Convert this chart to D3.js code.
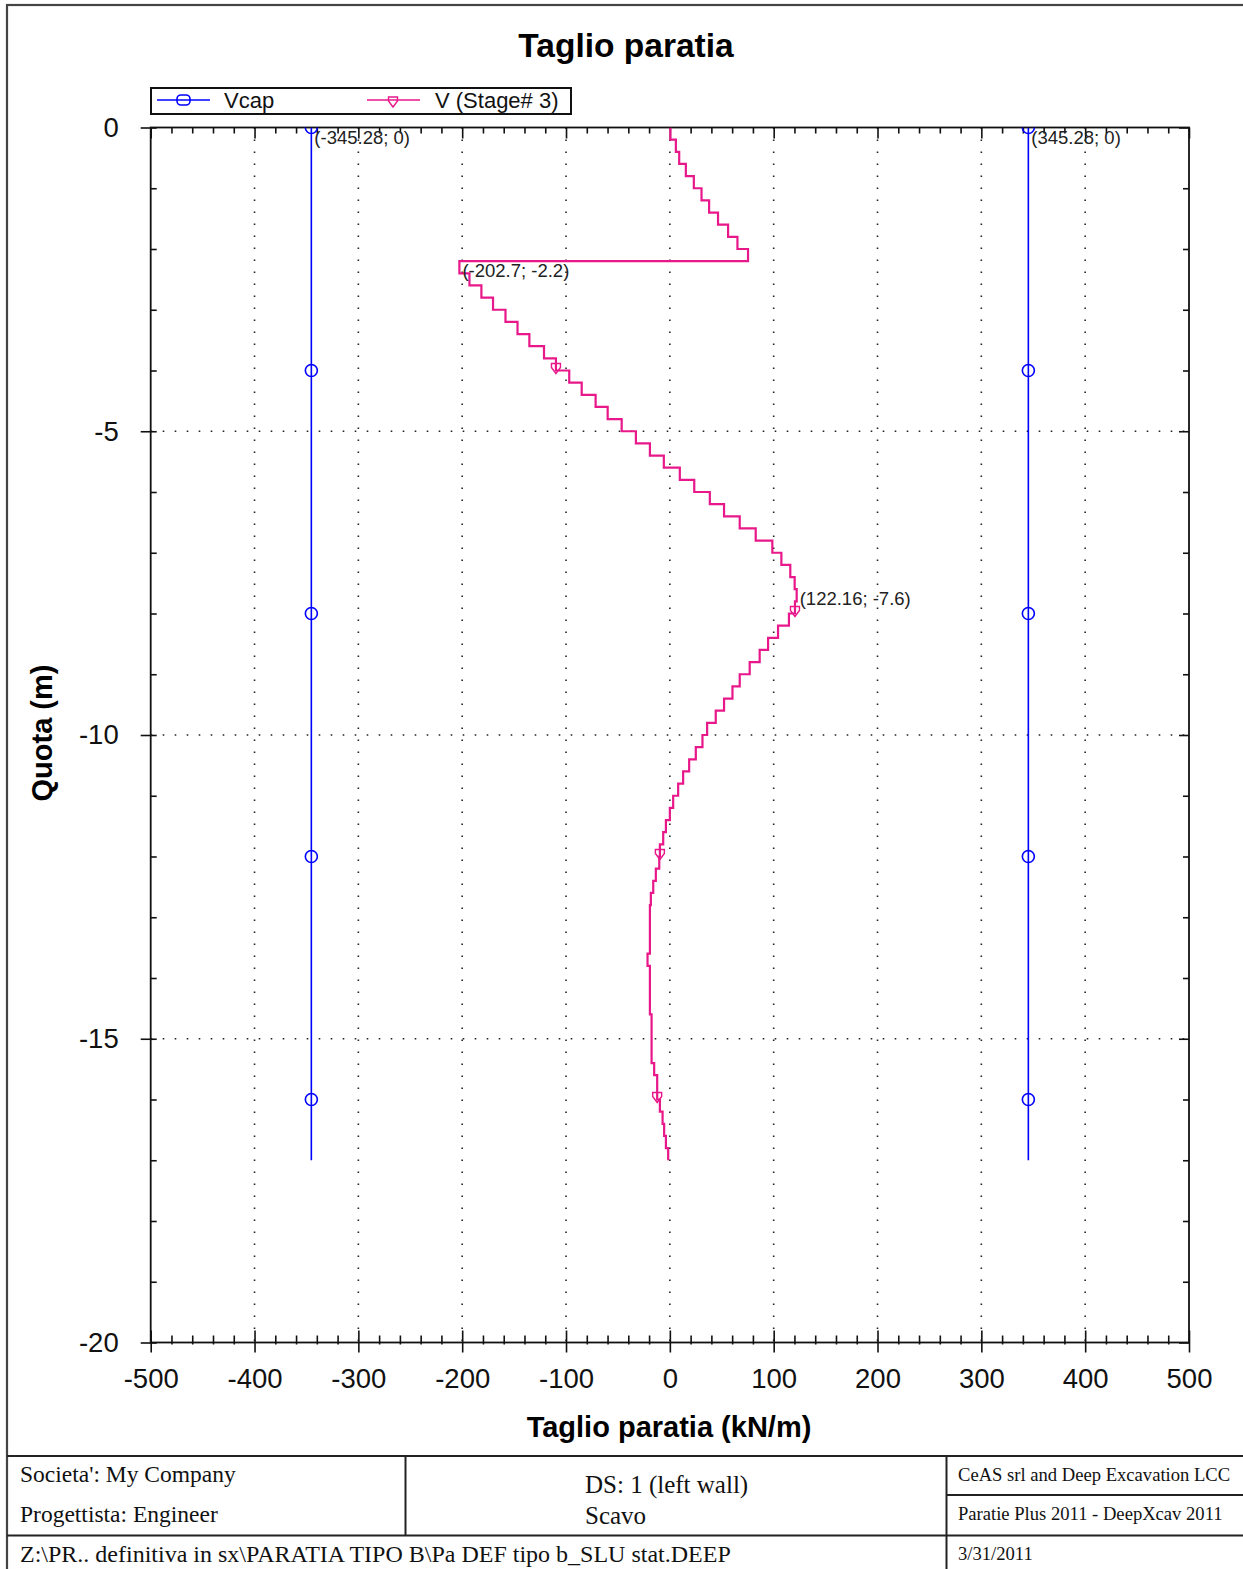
<!DOCTYPE html>
<html><head><meta charset="utf-8">
<script src="https://cdn.jsdelivr.net/npm/d3@7"></script>
<style>body{margin:0;background:#fff}svg{display:block}</style>
</head><body>
<script>
// ---- data ----
const quotaNodes = [0,-0.2,-0.4,-0.6,-0.8,-1,-1.2,-1.4,-1.6,-1.8,-2,-2.2,-2.4,-2.6,-2.8,-3,-3.2,-3.4,-3.6,-3.8,-4,-4.2,-4.4,-4.6,-4.8,-5,-5.2,-5.4,-5.6,-5.8,-6,-6.2,-6.4,-6.6,-6.8,-7,-7.2,-7.4,-7.6,-7.8,-8,-8.2,-8.4,-8.6,-8.8,-9,-9.2,-9.4,-9.6,-9.8,-10,-10.2,-10.4,-10.6,-10.8,-11,-11.2,-11.4,-11.6,-11.8,-12,-12.2,-12.4,-12.6,-12.8,-13,-13.2,-13.4,-13.6,-13.8,-14,-14.2,-14.4,-14.6,-14.8,-15,-15.2,-15.4,-15.6,-15.8,-16,-16.2,-16.4,-16.6,-16.8,-17];
// shear per element (between consecutive nodes), kN/m
const vStage3 = [0.5,5.8,9.0,15.4,23.1,30.5,37.8,46.4,56.1,65.1,75.3,
  -202.7,-193,-181.5,-170.3,-158.3,-146.7,-135.3,-121.2,-109.7,
  -96.9,-84.9,-71.5,-59.9,-46.4,-32.7,-19.2,-5.8,9.6,23.5,
  38.5,52.2,67.3,82.7,98.7,107.4,116,120.2,122.16,120.5,
  114.7,104.2,94.6,86.5,76.9,67.3,60.3,52.2,44.2,35.9,
  31.4,25,18.6,12.8,8.0,3.2,0,-3.8,-6.4,-9.6,
  -10.2,-13.5,-16,-18.3,-19.2,-19.2,-19.2,-19.2,-21.5,-19.2,
  -19.2,-19.2,-19.2,-17.6,-17.6,-17.6,-17.6,-15.1,-12.2,-12.2,
  -9.6,-7,-5.5,-3.8,-1.6];
const vMarkerQuota = [-4,-8,-12,-16];
const vcapValues = [-345.28, 345.28];
const vcapQuota = [0, -17];
const vcapMarkerQuota = [0,-4,-8,-12,-16];
const annotations = [[-345.28,0],[345.28,0],[-202.7,-2.2],[122.16,-7.6]];
const xMajorTicks = [-500,-400,-300,-200,-100,0,100,200,300,400,500];
const xMinorTicks = [-480,-460,-440,-420,-380,-360,-340,-320,-280,-260,-240,-220,-180,-160,-140,-120,-80,-60,-40,-20,20,40,60,80,120,140,160,180,220,240,260,280,320,340,360,380,420,440,460,480];
const yMajorTicks = [0,-5,-10,-15,-20];
const yMinorTicks = [-1,-2,-3,-4,-6,-7,-8,-9,-11,-12,-13,-14,-16,-17,-18,-19];
const seriesNames = ["Vcap","V (Stage# 3)"];

const W = 1243, H = 1569;
const BLUE = "#0000ff", PINK = "#e8178a";
const SANS = "'Liberation Sans', Arial, sans-serif";
const SERIF = "'Liberation Serif', 'Times New Roman', serif";

const svg = d3.select("body").append("svg").attr("width", W).attr("height", H);
svg.append("rect").attr("width", W).attr("height", H).attr("fill", "#fff");

const x = d3.scaleLinear().domain([-500, 500]).range([150.7, 1189]);
const y = d3.scaleLinear().domain([0, -20]).range([127.5, 1342.5]);
const [x0, x1] = x.range(), [y0, y1] = y.range();

// outer frame
svg.append("rect").attr("x", 7).attr("y", 5).attr("width", W + 10).attr("height", H + 10)
  .attr("fill", "none").attr("stroke", "#444").attr("stroke-width", 2.2);

// title
svg.append("text").attr("x", 626).attr("y", 57).attr("text-anchor", "middle")
  .attr("font-family", SANS).attr("font-weight", "bold").attr("font-size", 33.5).text("Taglio paratia");

// grid
const grid = svg.append("g").attr("stroke", "#222").attr("stroke-width", 1.6).attr("stroke-dasharray", "1.6,10.4");
grid.selectAll(".gv").data(xMajorTicks.slice(1, -1)).join("line")
  .attr("x1", d => x(d)).attr("x2", d => x(d)).attr("y1", y0).attr("y2", y1);
grid.selectAll(".gh").data(yMajorTicks.slice(1, -1)).join("line")
  .attr("x1", x0).attr("x2", x1).attr("y1", d => y(d)).attr("y2", d => y(d));

// axes
const fmt = d => String(d);
const axB = svg.append("g").attr("transform", `translate(0,${y1})`)
  .call(d3.axisBottom(x).tickValues(xMajorTicks).tickSize(10).tickPadding(16).tickFormat(fmt));
axB.selectAll(".tick line").attr("y1", -12);
const axBm = svg.append("g").attr("transform", `translate(0,${y1})`)
  .call(d3.axisBottom(x).tickValues(xMinorTicks).tickSize(-7).tickFormat(""));
axBm.selectAll(".tick line").attr("y1", 2);

const axT = svg.append("g").attr("transform", `translate(0,${y0})`)
  .call(d3.axisTop(x).tickValues(xMajorTicks).tickSize(-11).tickFormat(""));
const axTm = svg.append("g").attr("transform", `translate(0,${y0})`)
  .call(d3.axisTop(x).tickValues(xMinorTicks).tickSize(-6).tickFormat(""));

const axL = svg.append("g").attr("transform", `translate(${x0},0)`)
  .call(d3.axisLeft(y).tickValues(yMajorTicks).tickSize(10).tickPadding(22).tickFormat(fmt));
axL.selectAll(".tick line").attr("x1", 6);
const axLm = svg.append("g").attr("transform", `translate(${x0},0)`)
  .call(d3.axisLeft(y).tickValues(yMinorTicks).tickSize(-6).tickFormat(""));

const axR = svg.append("g").attr("transform", `translate(${x1},0)`)
  .call(d3.axisRight(y).tickValues(yMajorTicks).tickSize(-10).tickFormat(""));
const axRm = svg.append("g").attr("transform", `translate(${x1},0)`)
  .call(d3.axisRight(y).tickValues(yMinorTicks).tickSize(-6).tickFormat(""));

svg.selectAll(".domain").remove();
svg.selectAll(".tick line").attr("stroke", "#111").attr("stroke-width", 1.6);
[axB, axL].forEach(a => a.selectAll("text").attr("font-family", SANS).attr("font-size", 27.5).attr("fill", "#111"));

svg.append("rect").attr("x", x0).attr("y", y0).attr("width", x1 - x0).attr("height", y1 - y0)
  .attr("fill", "none").attr("stroke", "#111").attr("stroke-width", 1.8);

// axis labels
svg.append("text").attr("x", 669).attr("y", 1437).attr("text-anchor", "middle")
  .attr("font-family", SANS).attr("font-weight", "bold").attr("font-size", 29).text("Taglio paratia (kN/m)");
svg.append("text").attr("transform", "translate(52,733) rotate(-90)").attr("text-anchor", "middle")
  .attr("font-family", SANS).attr("font-weight", "bold").attr("font-size", 29).text("Quota (m)");

// clip
svg.append("clipPath").attr("id", "plotclip").append("rect")
  .attr("x", x0).attr("y", y0).attr("width", x1 - x0).attr("height", y1 - y0);
const plot = svg.append("g").attr("clip-path", "url(#plotclip)");

// Vcap
vcapValues.forEach(v => {
  plot.append("path").attr("d", d3.line()(vcapQuota.map(q => [x(v), y(q)])))
    .attr("stroke", BLUE).attr("stroke-width", 1.6).attr("fill", "none");
  plot.selectAll(null).data(vcapMarkerQuota).join("circle")
    .attr("cx", x(v)).attr("cy", d => y(d)).attr("r", 6)
    .attr("fill", "none").attr("stroke", BLUE).attr("stroke-width", 1.6);
});

// V stage 3 (stepped)
const pts = vStage3.map((v, i) => [v, quotaNodes[i]]);
pts.push([vStage3[vStage3.length - 1], quotaNodes[quotaNodes.length - 1]]);
const stepLine = d3.line().x(d => x(d[0])).y(d => y(d[1])).curve(d3.curveStepBefore);
plot.append("path").attr("d", stepLine(pts)).attr("stroke", PINK).attr("stroke-width", 2.2)
  .attr("fill", "none").attr("stroke-linejoin", "miter");

const triPath = "M-4.5,-5 H4.5 V-1 L0,5 L-4.5,-1 Z";
vMarkerQuota.forEach(q => {
  const idx = quotaNodes.indexOf(q) - 1;
  plot.append("path").attr("d", triPath)
    .attr("transform", `translate(${x(vStage3[idx])},${y(q) - 2})`)
    .attr("fill", "none").attr("stroke", PINK).attr("stroke-width", 1.4);
});

// annotations
svg.selectAll(".ann").data(annotations).join("text")
  .attr("x", d => x(d[0]) + 3).attr("y", d => y(d[1]) + 16)
  .attr("font-family", SANS).attr("font-size", 18.5).attr("fill", "#222")
  .text(d => `(${d[0]}; ${d[1]})`);

// legend
const lg = svg.append("g");
lg.append("rect").attr("x", 151).attr("y", 88).attr("width", 420).attr("height", 26)
  .attr("fill", "#fff").attr("stroke", "#111").attr("stroke-width", 2);
lg.append("line").attr("x1", 157).attr("x2", 210).attr("y1", 100).attr("y2", 100).attr("stroke", BLUE).attr("stroke-width", 1.6);
lg.append("rect").attr("x", 177).attr("y", 95).attr("width", 13).attr("height", 10).attr("rx", 4)
  .attr("fill", "none").attr("stroke", BLUE).attr("stroke-width", 1.6);
lg.append("line").attr("x1", 367).attr("x2", 420).attr("y1", 100).attr("y2", 100).attr("stroke", PINK).attr("stroke-width", 1.6);
lg.append("path").attr("d", triPath).attr("transform", "translate(393,102)")
  .attr("fill", "none").attr("stroke", PINK).attr("stroke-width", 1.4);
lg.selectAll(".lt").data(seriesNames).join("text")
  .attr("x", (d, i) => [224, 435][i]).attr("y", 108)
  .attr("font-family", SANS).attr("font-size", 22).attr("fill", "#111").text(d => d);

// footer table
const ft = svg.append("g").attr("stroke", "#222").attr("stroke-width", 2);
ft.append("line").attr("x1", 7).attr("x2", W).attr("y1", 1456).attr("y2", 1456);
ft.append("line").attr("x1", 7).attr("x2", W).attr("y1", 1535.5).attr("y2", 1535.5);
ft.append("line").attr("x1", 405.5).attr("x2", 405.5).attr("y1", 1456).attr("y2", 1535.5);
ft.append("line").attr("x1", 946.5).attr("x2", 946.5).attr("y1", 1456).attr("y2", H);
ft.append("line").attr("x1", 946.5).attr("x2", W).attr("y1", 1495).attr("y2", 1495);

const footerTexts = [
  {t: "Societa': My Company", x: 20, y: 1482, s: 23.5},
  {t: "Progettista: Engineer", x: 20, y: 1522, s: 23.5},
  {t: "DS: 1 (left wall)", x: 585, y: 1493, s: 25},
  {t: "Scavo", x: 585, y: 1524, s: 25},
  {t: "CeAS srl and Deep Excavation LCC", x: 958, y: 1481, s: 18.6},
  {t: "Paratie Plus 2011 - DeepXcav 2011", x: 958, y: 1520, s: 18.6},
  {t: "Z:\\PR.. definitiva in sx\\PARATIA TIPO B\\Pa DEF tipo b_SLU stat.DEEP", x: 20, y: 1562, s: 24},
  {t: "3/31/2011", x: 958, y: 1560, s: 18.6}
];
svg.selectAll(".ftx").data(footerTexts).join("text")
  .attr("x", d => d.x).attr("y", d => d.y).attr("font-size", d => d.s)
  .attr("font-family", SERIF).attr("fill", "#111").text(d => d.t);
</script>
</body></html>
